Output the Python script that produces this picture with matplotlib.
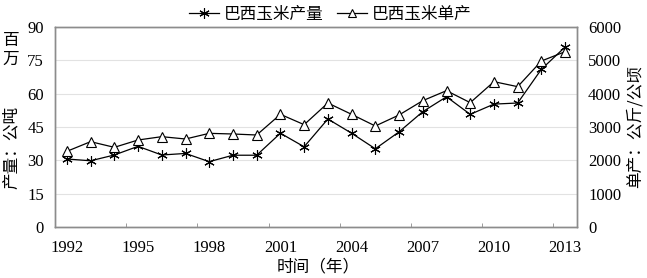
import matplotlib.pyplot as plt
from matplotlib.lines import Line2D

years = list(range(1992, 2014))
production = [30.6, 29.8, 32.4, 36.3, 32.4, 33.1, 29.4, 32.3, 32.3, 42.2, 36.1, 48.6,
              42.2, 35.2, 42.8, 51.9, 58.6, 50.7, 55.3, 55.8, 71.0, 81.0]
yield_kg = [2270, 2560, 2390, 2610, 2710, 2640, 2810, 2790, 2760, 3380, 3070, 3720,
            3380, 3030, 3360, 3790, 4090, 3730, 4360, 4210, 4980, 5260]

SERIF = ["Liberation Serif", "DejaVu Serif"]
CJK = ["Noto Sans CJK SC", "DejaVu Sans"]
GRAY = "#8c8c8c"

fig = plt.figure(figsize=(6.47, 2.78), dpi=100)
ax = fig.add_axes([55 / 647, 1 - 227 / 278, 522 / 647, 200 / 278])
ax2 = ax.twinx()

x = list(range(len(years)))
ast = (6, 2, 0)
ax.plot(x, production, color="black", lw=0.9, marker=ast, ms=7.5, mew=0.8, mec="black", zorder=3)
ax2.plot(x, yield_kg, color="black", lw=0.9, marker="^", ms=7.5, mfc="white", mec="black",
         mew=0.8, zorder=3)

ax.set_xlim(-0.5, len(years) - 0.5)
ax.set_ylim(0, 90)
ax2.set_ylim(0, 6000)
ax.set_yticks(range(0, 91, 15))
ax2.set_yticks(range(0, 6001, 1000))
ax.grid(axis="y", color="#e2e2e2", lw=0.8)
ax.set_axisbelow(True)

ax.set_xticks(x[::3])
ax.set_xticklabels([str(y) for y in years[::3]])
ax.set_xticks([i + 2.5 for i in range(0, 19, 3)], minor=True)
ax.tick_params(axis="x", which="major", length=0, pad=9)
ax.tick_params(axis="x", which="minor", direction="in", length=3, color=GRAY)
ax.tick_params(axis="y", length=0, pad=8)
ax2.tick_params(axis="y", length=0, pad=8)

for a in (ax, ax2):
    for s in a.spines.values():
        s.set_color(GRAY)
        s.set_linewidth(1.0)
    for lab in a.get_xticklabels() + a.get_yticklabels():
        lab.set_family(SERIF)
        lab.set_fontsize(12)

fig.text(11 / 647, 1 - 40 / 278, "百", family=CJK, fontsize=12, ha="center", va="center")
fig.text(11 / 647, 1 - 59 / 278, "万", family=CJK, fontsize=12, ha="center", va="center")
fig.text(11 / 647, 1 - 147 / 278, "产量：公吨", family=CJK, fontsize=12, rotation=90,
         ha="center", va="center")
fig.text(635 / 647, 1 - 127 / 278, "单产：公斤/公顷", family=CJK, fontsize=12, rotation=90,
         ha="center", va="center")
fig.text(318 / 647, 1 - 267 / 278, "时间（年）", family=CJK, fontsize=12, ha="center", va="center")

handles = [
    Line2D([], [], color="black", lw=0.9, marker=ast, ms=7.5, mew=0.8),
    Line2D([], [], color="black", lw=0.9, marker="^", ms=6, mfc="white", mec="black", mew=0.8),
]
fig.legend(handles, ["巴西玉米产量", "巴西玉米单产"], loc="center", ncol=2,
           bbox_to_anchor=(330 / 647, 1 - 14 / 278), frameon=False,
           prop={"family": CJK, "size": 12}, handlelength=1.8, handletextpad=0.3,
           columnspacing=0.8, borderpad=0)

fig.savefig("out.png", dpi=100)
